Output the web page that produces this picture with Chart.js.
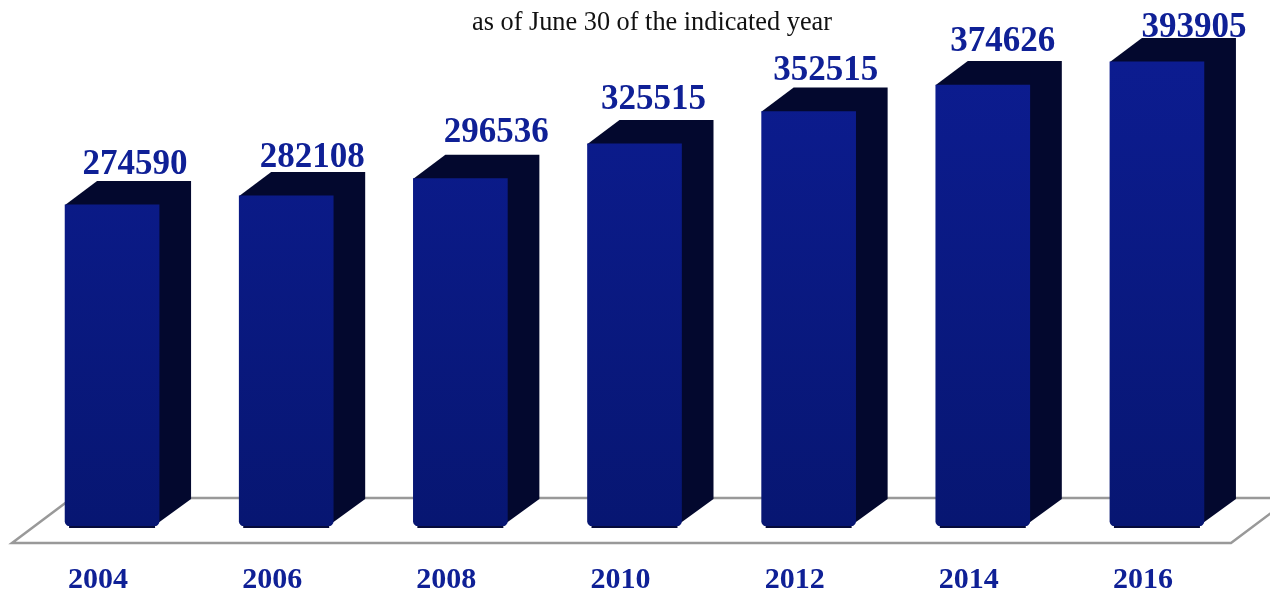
<!DOCTYPE html>
<html>
<head>
<meta charset="utf-8">
<title>as of June 30 of the indicated year</title>
<script src="https://cdn.jsdelivr.net/npm/chart.js@4"></script>
<style>
  html, body { margin: 0; padding: 0; background: #fff; }
  canvas { display: block; }
</style>
</head>
<body>
<canvas id="popChart" width="1270" height="592"></canvas>
<script>
// data
const years = ["2004", "2006", "2008", "2010", "2012", "2014", "2016"];
const values = [274590, 282108, 296536, 325515, 352515, 374626, 393905];
const subtitle = "as of June 30 of the indicated year";

const SERIF = '"Liberation Serif", "Times New Roman", serif';
const TEXT_BLUE = "#0f2096";
const SIDE_DARK = "#03082e";
const DEPTH_X = 32;
const DEPTH_Y = 24;
const AXIS_MIN = 6700;

// the value labels sit unevenly over the bars in the original
const labelNudge = [[23, -40], [26, -38], [36, -46], [19, -44], [17, -41], [20, -43], [37, -34]];

// grey floor + dark side/top faces, behind the bars
const boxPlugin = {
  id: "boxPlugin",
  beforeDatasetsDraw(chart) {
    const ctx = chart.ctx;
    const area = chart.chartArea;
    const front = area.bottom + 17;
    const back = area.bottom - 28;

    ctx.save();
    ctx.strokeStyle = "#999999";
    ctx.lineWidth = 2.5;
    ctx.beginPath();
    ctx.moveTo(72, back);
    ctx.lineTo(12, front);
    ctx.lineTo(1231, front);
    ctx.lineTo(1291, back);
    ctx.lineTo(72, back);
    ctx.stroke();

    chart.getDatasetMeta(0).data.forEach((bar) => {
      const left = bar.x - bar.width / 2;
      const right = bar.x + bar.width / 2;
      ctx.fillStyle = SIDE_DARK;
      ctx.beginPath();
      ctx.moveTo(left, bar.y);
      ctx.lineTo(left + DEPTH_X, bar.y - DEPTH_Y);
      ctx.lineTo(right + DEPTH_X, bar.y - DEPTH_Y);
      ctx.lineTo(right + DEPTH_X, bar.base - DEPTH_Y - 3);
      ctx.lineTo(right - 1, bar.base - 3);
      ctx.closePath();
      ctx.fill();
      // thin shadow under the front face
      ctx.fillStyle = "#060b3a";
      ctx.fillRect(left + 4, bar.base - 3, bar.width - 8, 5);
    });
    ctx.restore();
  },
  afterDatasetsDraw(chart) {
    const ctx = chart.ctx;
    ctx.save();
    ctx.textAlign = "center";
    ctx.textBaseline = "middle";
    ctx.fillStyle = TEXT_BLUE;
    ctx.font = "bold 35px " + SERIF;
    chart.getDatasetMeta(0).data.forEach((bar, i) => {
      ctx.fillText(String(values[i]), bar.x + labelNudge[i][0], bar.y + labelNudge[i][1]);
    });
    ctx.fillStyle = "#111111";
    ctx.font = "26.3px " + SERIF;
    ctx.fillText(subtitle, 652, 23);
    ctx.restore();
  },
};

new Chart(document.getElementById("popChart"), {
  type: "bar",
  data: {
    labels: years,
    datasets: [
      {
        data: values,
        base: AXIS_MIN,
        barThickness: 94,
        borderSkipped: false,
        borderRadius: { topLeft: 0, topRight: 0, bottomLeft: 5, bottomRight: 5 },
        backgroundColor(c) {
          const area = c.chart.chartArea;
          if (!area) return "#0a1a80";
          const grad = c.chart.ctx.createLinearGradient(0, 60, 0, area.bottom);
          grad.addColorStop(0, "#0c1c90");
          grad.addColorStop(1, "#071672");
          return grad;
        },
      },
    ],
  },
  plugins: [boxPlugin],
  options: {
    responsive: false,
    animation: false,
    layout: { padding: { left: 25, right: 26, top: 0, bottom: 0 } },
    plugins: { legend: { display: false }, tooltip: { enabled: false } },
    scales: {
      x: {
        grid: { display: false, drawTicks: false },
        border: { display: false },
        afterFit(scale) {
          scale.height = 66;
        },
        ticks: {
          color: TEXT_BLUE,
          padding: 39,
          labelOffset: -14,
          maxRotation: 0,
          font: { family: SERIF, size: 30, weight: "bold", lineHeight: 1 },
        },
      },
      y: { display: false, min: AXIS_MIN, max: 445600 },
    },
  },
});
</script>
</body>
</html>
